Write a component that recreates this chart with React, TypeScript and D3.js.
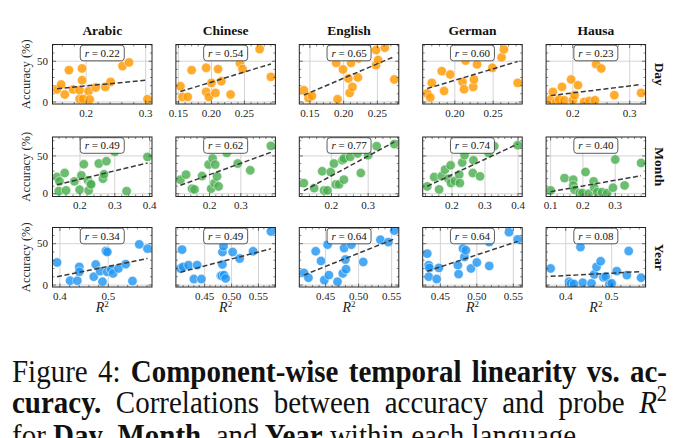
import * as d3 from "d3";
import { useEffect, useRef } from "react";

const languages = ["Arabic", "Chinese", "English", "German", "Hausa"];
const components = ["Day", "Month", "Year"];

const rDay = ["0.22", "0.54", "0.65", "0.60", "0.23"];
const rMonth = ["0.49", "0.62", "0.77", "0.74", "0.40"];
const rYear = ["0.34", "0.49", "0.64", "0.64", "0.08"];

// [probe R^2, accuracy %]
const dayArabic = [[0.151,15.3],[0.158,21.4],[0.164,9.1],[0.171,39.0],[0.178,15.3],[0.189,3.7],[0.189,14.4],[0.193,41.1],[0.193,26.7],[0.195,3.7],[0.204,13.2],[0.206,3.0],[0.216,17.7],[0.232,18.5],[0.241,24.6],[0.261,44.0],[0.272,48.5],[0.303,3.3]];
const dayChinese = [[0.153,19.3],[0.156,6.2],[0.164,6.2],[0.170,39.0],[0.192,41.9],[0.192,12.3],[0.196,6.2],[0.200,23.4],[0.206,11.1],[0.210,40.3],[0.215,25.5],[0.229,9.1],[0.243,47.7],[0.247,40.3],[0.273,64.9],[0.290,30.8]];
const dayEnglish = [[0.141,14.4],[0.148,4.9],[0.153,7.4],[0.189,48.0],[0.191,3.3],[0.199,39.9],[0.207,28.8],[0.209,11.1],[0.211,48.0],[0.213,18.5],[0.221,30.0],[0.222,53.4],[0.248,63.7],[0.248,45.2],[0.251,51.4],[0.261,66.5],[0.275,27.6]];
const dayGerman = [[0.164,10.3],[0.168,5.4],[0.170,23.4],[0.183,37.8],[0.186,13.5],[0.194,33.7],[0.210,24.6],[0.212,15.6],[0.214,50.7],[0.224,18.5],[0.225,27.6],[0.229,46.1],[0.249,41.9],[0.261,54.7],[0.264,64.5],[0.282,23.4]];
const dayHausa = [[0.161,3.0],[0.165,12.3],[0.171,0.0],[0.176,3.0],[0.181,18.5],[0.185,2.1],[0.197,27.6],[0.200,2.1],[0.203,8.3],[0.209,20.6],[0.220,0.0],[0.229,1.2],[0.239,2.1],[0.241,46.4],[0.250,41.1],[0.273,8.3],[0.320,11.1]];

const monthArabic = [[0.134,22.1],[0.141,16.4],[0.139,3.5],[0.156,27.4],[0.160,4.4],[0.184,16.4],[0.199,5.3],[0.204,24.3],[0.211,39.0],[0.223,17.7],[0.225,4.4],[0.230,13.3],[0.232,12.4],[0.254,39.9],[0.266,19.9],[0.269,25.7],[0.276,43.0],[0.300,55.3],[0.334,3.5],[0.394,48.7]];
const monthChinese = [[0.107,18.6],[0.125,25.3],[0.144,6.6],[0.152,5.7],[0.176,23.4],[0.197,38.6],[0.210,46.5],[0.205,6.6],[0.216,14.1],[0.218,38.6],[0.224,23.0],[0.229,9.7],[0.255,54.0],[0.290,39.9],[0.330,31.0],[0.396,63.3]];
const monthEnglish = [[0.125,14.1],[0.153,7.4],[0.175,29.7],[0.180,4.4],[0.189,4.4],[0.198,28.7],[0.207,39.9],[0.212,12.4],[0.221,12.4],[0.230,44.3],[0.234,18.6],[0.234,46.5],[0.251,48.7],[0.271,53.2],[0.280,27.4],[0.300,50.9],[0.323,62.9],[0.371,65.6]];
const monthGerman = [[0.125,9.7],[0.146,22.1],[0.161,5.7],[0.169,23.4],[0.179,31.9],[0.189,19.9],[0.196,37.6],[0.197,14.1],[0.209,16.8],[0.222,25.3],[0.224,14.1],[0.231,41.2],[0.238,50.9],[0.263,27.4],[0.265,44.3],[0.285,23.0],[0.311,54.0],[0.328,62.9],[0.399,64.2]];
const monthHausa = [[0.100,4.4],[0.143,20.7],[0.170,18.6],[0.170,11.0],[0.174,5.3],[0.190,0.8],[0.198,0.8],[0.208,28.7],[0.218,0.0],[0.233,16.4],[0.235,8.0],[0.244,2.1],[0.259,2.1],[0.275,0.8],[0.293,8.0],[0.300,45.2],[0.329,11.0],[0.380,40.7]];

const yearArabic = [[0.394,27.2],[0.421,5.2],[0.436,5.2],[0.440,21.9],[0.440,15.9],[0.470,10.0],[0.474,24.8],[0.483,16.8],[0.488,4.0],[0.495,41.1],[0.498,39.9],[0.498,15.9],[0.506,18.8],[0.510,14.0],[0.521,20.0],[0.536,25.2],[0.550,4.8],[0.564,49.2],[0.581,44.0]];
const yearChinese = [[0.408,42.8],[0.405,20.0],[0.410,21.9],[0.420,24.0],[0.430,7.2],[0.436,24.0],[0.444,7.2],[0.480,11.2],[0.482,11.2],[0.486,12.0],[0.489,8.0],[0.483,24.8],[0.483,39.9],[0.485,47.1],[0.502,39.9],[0.515,32.0],[0.540,40.8],[0.573,64.7]];
const yearEnglish = [[0.417,14.7],[0.424,8.8],[0.435,40.8],[0.443,29.1],[0.448,6.0],[0.453,48.8],[0.455,12.0],[0.468,4.0],[0.476,14.0],[0.478,44.7],[0.480,30.8],[0.481,19.2],[0.489,48.8],[0.507,27.9],[0.533,54.8],[0.545,51.9],[0.554,65.9]];
const yearGerman = [[0.432,38.0],[0.434,24.0],[0.435,20.7],[0.434,10.0],[0.445,7.2],[0.448,20.7],[0.474,24.0],[0.475,13.2],[0.481,44.0],[0.483,33.9],[0.485,42.0],[0.492,20.0],[0.500,27.2],[0.517,23.1],[0.517,51.9],[0.544,63.9],[0.556,55.2]];
const yearHausa = [[0.367,20.0],[0.407,4.0],[0.411,2.0],[0.418,1.2],[0.432,45.9],[0.437,2.8],[0.456,2.0],[0.462,12.8],[0.467,21.9],[0.476,28.8],[0.482,9.2],[0.487,10.0],[0.495,1.2],[0.500,2.0],[0.511,16.8],[0.533,12.0],[0.537,41.1],[0.564,8.8]];

const xTicksDay = [[0.2, 0.3], [0.15, 0.2, 0.25], [0.15, 0.2, 0.25], [0.2, 0.25], [0.2, 0.3]];
const xTicksMonth = [[0.2, 0.3, 0.4], [0.2, 0.3], [0.2, 0.3], [0.2, 0.3, 0.4], [0.1, 0.2, 0.3]];
const xTicksYear = [[0.4, 0.5], [0.45, 0.5, 0.55], [0.45, 0.5, 0.55], [0.45, 0.5, 0.55], [0.4, 0.5]];
const yTicks = [0, 50];
const yDomains = [[-2.5, 70.5], [-3.6, 75], [-2.4, 69.6]];

const rows = [
  { name: "Day", color: "#ff9800", r: rDay, ticks: xTicksDay, data: [dayArabic, dayChinese, dayEnglish, dayGerman, dayHausa] },
  { name: "Month", color: "#4caf50", r: rMonth, ticks: xTicksMonth, data: [monthArabic, monthChinese, monthEnglish, monthGerman, monthHausa] },
  { name: "Year", color: "#2196f3", r: rYear, ticks: xTicksYear, data: [yearArabic, yearChinese, yearEnglish, yearGerman, yearHausa] },
];

const FONT = "'Liberation Serif', 'Times New Roman', serif";
const panelW = 99.5;
const panelH = 59.5;
const colLeft = (i) => 52.5 + i * 123.4;
const rowTops = [44.5, 137, 227.5];

function minorStep(step) {
  const e = Math.pow(10, Math.floor(Math.log10(step)));
  const m = Math.round(step / e);
  return m === 1 || m === 5 ? step / 5 : step / 4;
}

function Panel({ row, ri, ci }) {
  const pts = row.data[ci];
  const left = colLeft(ci);
  const top = rowTops[ri];
  const [x0, x1] = d3.extent(pts, (d) => d[0]);
  const pad = (x1 - x0) * 0.05;
  const x = d3.scaleLinear().domain([x0 - pad, x1 + pad]).range([left, left + panelW]);
  const y = d3.scaleLinear().domain(yDomains[ri]).range([top + panelH, top]);
  const ticks = row.ticks[ci];
  const step = ticks[1] - ticks[0];
  const fmt = d3.format(step < 0.099 ? ".2f" : ".1f");
  const xm = minorStep(step);
  const [dx0, dx1] = x.domain();
  const xMinor = d3.range(Math.ceil(dx0 / xm) * xm, dx1, xm).filter((v) => !ticks.some((t) => Math.abs(t - v) < xm / 10));
  const yMinor = d3.range(0, 71, 10).filter((v) => !yTicks.includes(v) && v <= yDomains[ri][1]);

  // least-squares fit
  const mx = d3.mean(pts, (d) => d[0]);
  const my = d3.mean(pts, (d) => d[1]);
  const slope = d3.sum(pts, (d) => (d[0] - mx) * (d[1] - my)) / d3.sum(pts, (d) => (d[0] - mx) ** 2);
  const fit = (v) => my + slope * (v - mx);
  const line = d3.line().x((d) => x(d)).y((d) => y(fit(d)));

  const bottom = top + panelH;
  const right = left + panelW;
  const tk = "#333";
  const cx = left + panelW / 2;

  return (
    <g>
      <defs>
        <clipPath id={`clip-${ri}-${ci}`}>
          <rect x={left} y={top} width={panelW} height={panelH} />
        </clipPath>
      </defs>
      {/* grid */}
      {ticks.map((t) => (
        <line key={"gx" + t} x1={x(t)} x2={x(t)} y1={top} y2={bottom} stroke="#cfcfcf" strokeWidth={0.9} />
      ))}
      {yTicks.map((t) => (
        <line key={"gy" + t} x1={left} x2={right} y1={y(t)} y2={y(t)} stroke="#cfcfcf" strokeWidth={0.9} />
      ))}
      <g clipPath={`url(#clip-${ri}-${ci})`}>
        {pts.map((d, i) => (
          <circle key={i} cx={x(d[0])} cy={y(d[1])} r={4.7} fill={row.color} fillOpacity={0.82} stroke="#fff" strokeWidth={0.5} />
        ))}
        <path d={line([x0, x1])} fill="none" stroke="#3a3a3a" strokeWidth={1.5} strokeDasharray="5,2.6" />
      </g>
      {/* ticks: all sides, inward */}
      {ticks.map((t) => (
        <g key={"tx" + t} stroke={tk} strokeWidth={0.7}>
          <line x1={x(t)} x2={x(t)} y1={bottom} y2={bottom - 3.5} />
          <line x1={x(t)} x2={x(t)} y1={top} y2={top + 3.5} />
        </g>
      ))}
      {xMinor.map((t) => (
        <g key={"mx" + t} stroke={tk} strokeWidth={0.6}>
          <line x1={x(t)} x2={x(t)} y1={bottom} y2={bottom - 2} />
          <line x1={x(t)} x2={x(t)} y1={top} y2={top + 2} />
        </g>
      ))}
      {yTicks.map((t) => (
        <g key={"ty" + t} stroke={tk} strokeWidth={0.7}>
          <line x1={left} x2={left + 3.5} y1={y(t)} y2={y(t)} />
          <line x1={right} x2={right - 3.5} y1={y(t)} y2={y(t)} />
        </g>
      ))}
      {yMinor.map((t) => (
        <g key={"my" + t} stroke={tk} strokeWidth={0.6}>
          <line x1={left} x2={left + 2} y1={y(t)} y2={y(t)} />
          <line x1={right} x2={right - 2} y1={y(t)} y2={y(t)} />
        </g>
      ))}
      <rect x={left} y={top} width={panelW} height={panelH} fill="none" stroke="#222" strokeWidth={1} />
      {/* tick labels */}
      {ticks.map((t) => (
        <text key={"lx" + t} x={x(t)} y={bottom + 12.5} textAnchor="middle" fontSize={11} fontFamily={FONT} fill="#222">
          {fmt(t)}
        </text>
      ))}
      {ci === 0 &&
        yTicks.map((t) => (
          <text key={"ly" + t} x={left - 4.5} y={y(t) + 3.7} textAnchor="end" fontSize={11} fontFamily={FONT} fill="#222">
            {t}
          </text>
        ))}
      {/* r annotation */}
      <rect x={cx - 22} y={top + 0.7} width={44} height={15.6} rx={3} fill="#fff" fillOpacity={0.92} stroke="#333" strokeWidth={0.8} />
      <text x={cx} y={top + 12.2} textAnchor="middle" fontSize={11} fontFamily={FONT} fill="#111">
        <tspan fontStyle="italic">r</tspan>
        {" = " + row.r[ci]}
      </text>
    </g>
  );
}

export default function App() {
  const capRef = useRef(null);

  useEffect(() => {
    const g = capRef.current;
    if (!g) return;
    g.querySelectorAll("text[data-justify]").forEach((t) => {
      t.style.wordSpacing = "0px";
      const w = t.getComputedTextLength();
      const target = +t.getAttribute("data-justify");
      const spaces = (t.textContent.match(/ /g) || []).length;
      if (spaces) t.style.wordSpacing = Math.max(0, (target - w) / spaces) + "px";
    });
  }, []);

  const capSize = 29;

  return (
    <svg width={691} height={438} viewBox="0 0 691 438" style={{ position: "absolute", left: 0, top: 0, background: "#fff" }}>
      {languages.map((lang, ci) => (
        <text key={lang} x={colLeft(ci) + panelW / 2} y={34.5} textAnchor="middle" fontSize={13.5} fontWeight="bold" fontFamily={FONT} fill="#111">
          {lang}
        </text>
      ))}
      {rows.map((row, ri) => (
        <g key={row.name}>
          {languages.map((lang, ci) => (
            <Panel key={lang} row={row} ri={ri} ci={ci} />
          ))}
          <text
            transform={`translate(29.5,${rowTops[ri] + panelH / 2}) rotate(-90)`}
            textAnchor="middle"
            fontSize={12.5}
            fontFamily={FONT}
            fill="#222"
          >
            Accuracy (%)
          </text>
          <text
            transform={`translate(654.5,${rowTops[ri] + panelH / 2}) rotate(90)`}
            textAnchor="middle"
            fontSize={13.5}
            fontWeight="bold"
            fontFamily={FONT}
            fill="#111"
          >
            {components[ri]}
          </text>
        </g>
      ))}
      {languages.map((lang, ci) => (
        <text key={"xl" + lang} x={colLeft(ci) + panelW / 2} y={rowTops[2] + panelH + 25} textAnchor="middle" fontSize={14} fontFamily={FONT} fill="#222">
          <tspan fontStyle="italic">R</tspan>
          <tspan fontSize={9} dy={-5}>2</tspan>
        </text>
      ))}
      <g ref={capRef} fontFamily={FONT} fontSize={capSize} fill="#111">
        <text transform="translate(12,382) scale(1,1.12)" x={0} y={0} data-justify={655}>
          <tspan>{"Figure 4: "}</tspan>
          <tspan fontWeight="bold">{"Component-wise temporal linearity vs. ac-"}</tspan>
        </text>
        <text transform="translate(12,413) scale(1,1.12)" x={0} y={0} data-justify={655}>
          <tspan fontWeight="bold">{"curacy."}</tspan>
          <tspan>{" Correlations between accuracy and probe "}</tspan>
          <tspan fontStyle="italic">R</tspan>
          <tspan fontSize={capSize * 0.7} dy={-11}>2</tspan>
        </text>
        <text transform="translate(12,446) scale(1,1.12)" x={0} y={0}>
          <tspan>{"for "}</tspan>
          <tspan fontWeight="bold">Day</tspan>
          <tspan>{", "}</tspan>
          <tspan fontWeight="bold">Month</tspan>
          <tspan>{", and "}</tspan>
          <tspan fontWeight="bold">Year</tspan>
          <tspan>{" within each language."}</tspan>
        </text>
      </g>
    </svg>
  );
}
